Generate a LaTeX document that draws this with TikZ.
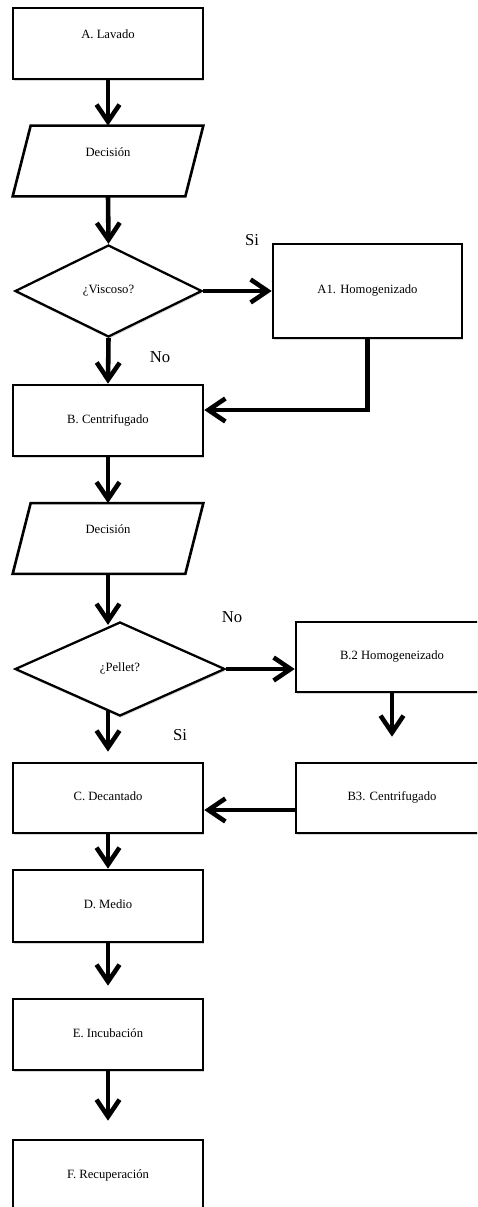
\documentclass[tikz,border=0pt]{standalone}
\usepackage{fontspec}
\setmainfont{Liberation Serif}
\usepackage{xcolor,tikz}
\usetikzlibrary{arrows.meta}
\usetikzlibrary{shapes.geometric}
\usetikzlibrary{shadows}

\tikzset{
  paso/.style={draw, line width=1.5pt, fill=white, rectangle,
    minimum width=3.8cm, minimum height=1.42cm,
    text height=0.2cm, text depth=0.1cm,
    font=\fontsize{7.2}{8}\selectfont,
    drop shadow={shadow xshift=0.3pt, shadow yshift=-1.2pt, opacity=0.3}},
  arriba/.style={text depth=0.4cm},
  entrada/.style={rectangle, minimum width=3.8cm, minimum height=1.4cm,
    text height=0.2cm, text depth=0.4cm, font=\fontsize{7.2}{8}\selectfont},
  borde/.style={line width=1.5pt, line join=miter},
  pregunta/.style={paso, diamond, line width=1.3pt, drop shadow={opacity=0},
    minimum width=3.74cm, minimum height=1.84cm},
  flecha/.style={line width=2.6pt, -{Straight Barb[length=3.4mm, width=4.6mm]}},
  etiqueta/.style={font=\fontsize{9.5}{11}\selectfont, inner sep=0pt}
}

\begin{document}
\begin{tikzpicture}[x=0.02cm, y=-0.02cm]
          \fill[white] (0,0) rectangle (477,1207);
          \clip (0,0) rectangle (477,1207);
          \node[paso, arriba] (lavado) at (108,43.5) {A. Lavado};
          \node[entrada] (decision) at (108,161) {Decisión};
          \node[pregunta] (viscoso) at (108.5,291) {¿Viscoso?};
          \node[paso, minimum width=3.78cm, minimum height=1.88cm] (homog) at (367.5,291) {A1. Homogenizado};
          \node[paso] (centrif) at (108,420.5) {B. Centrifugado};
          \node[entrada] (decisionb) at (108,538.5) {Decisión};
          \node[pregunta, minimum width=4.2cm, minimum height=1.88cm] (pellet) at (120,669) {¿Pellet?};
          \node[paso, minimum width=3.84cm, minimum height=1.4cm] (homogb) at (392,657) {B.2 Homogeneizado};
          \node[paso, minimum width=3.84cm, minimum height=1.4cm] (centrifb) at (392,798) {B3. Centrifugado};
          \node[paso, minimum height=1.4cm] (decant) at (108,798) {C. Decantado};
          \node[paso, minimum height=1.44cm] (medio) at (108,906) {D. Medio};
          \node[paso] (incub) at (108,1034.5) {E. Incubación};
          \node[paso] (recup) at (108,1175.5) {F. Recuperación};

          \draw[borde] ([xshift=0.36cm]decision.north west) -- (decision.north east) -- ([xshift=-0.36cm]decision.south east) -- (decision.south west) -- cycle;
          \draw[borde] ([xshift=0.36cm]decisionb.north west) -- (decisionb.north east) -- ([xshift=-0.36cm]decisionb.south east) -- (decisionb.south west) -- cycle;

          \node[etiqueta] (si) at (252,240) {Si};
          \node[etiqueta] (no) at (160,357) {No};
          \node[etiqueta] (nob) at (232,617) {No};
          \node[etiqueta] (sib) at (180,735) {Si};

          \draw[flecha] (lavado.south) -- (decision.north);
          \draw[flecha] (decision.south) -- (viscoso.north);
          \draw[flecha] (viscoso.east) -- (viscoso.east -| homog.west);
          \draw[flecha] (viscoso.south) -- (centrif.north);
          \draw[flecha] (homog.south) |- ([yshift=0.21cm]centrif.east);
          \draw[flecha] (centrif.south) -- (decisionb.north);
          \draw[flecha] (decisionb.south) -- ([yshift=-0.08cm]decisionb.south |- pellet.north);
          \draw[flecha] (pellet.east) -- (pellet.east -| homogb.west);
          \draw[flecha] ([yshift=0.12cm]decant.north |- pellet.south) -- ([yshift=0.2cm]decant.north);
          \draw[flecha] (homogb.south) -- ([yshift=0.5cm]centrifb.north);
          \draw[flecha] ([yshift=-0.24cm]centrifb.west) -- ([yshift=-0.24cm]decant.east);
          \draw[flecha] (decant.south) -- (medio.north);
          \draw[flecha] (medio.south) -- ([yshift=0.24cm]incub.north);
          \draw[flecha] (incub.south) -- ([yshift=0.36cm]recup.north);
        \end{tikzpicture}
\end{document}
